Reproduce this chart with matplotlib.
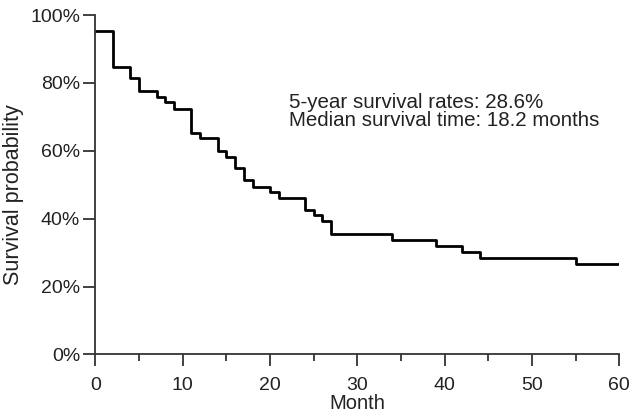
import matplotlib
matplotlib.use("Agg")
from matplotlib import pyplot as plt
from matplotlib.ticker import MultipleLocator, PercentFormatter

plt.rcParams['font.family'] = ['Liberation Sans', 'DejaVu Sans']

# Kaplan-Meier steps (month, survival % after the drop)
months = [0, 2, 4, 5, 7, 8, 9, 11, 12, 14, 15, 16, 17, 18, 20, 21, 24, 25, 26, 27,
          34, 39, 42, 44, 55, 60]
survival = [95.4, 84.8, 81.4, 77.7, 75.9, 74.3, 72.4, 65.2, 63.9, 59.9, 58.3, 54.8,
            51.5, 49.4, 48.0, 46.0, 42.6, 41.1, 39.3, 35.4, 33.7, 32.0, 30.3, 28.3,
            26.7, 26.7]

note_lines = ["5-year survival rates: 28.6%", "Median survival time: 18.2 months"]

fig = plt.figure(figsize=(6.32, 4.18), dpi=100)
fig.set_facecolor('white')
ax = fig.add_axes([0.151, 0.152, 0.829, 0.812])

ax.step(months, survival, where='post', color='black', lw=2.0)

ax.set_xlim(0, 60)
ax.set_ylim(0, 100)
ax.xaxis.set_major_locator(MultipleLocator(10))
ax.xaxis.set_minor_locator(MultipleLocator(5))
ax.yaxis.set_major_locator(MultipleLocator(20))
ax.yaxis.set_major_formatter(PercentFormatter(decimals=0))

for s in ['top', 'right']:
    ax.spines[s].set_visible(False)
for s in ['left', 'bottom']:
    ax.spines[s].set_color('#333333')
    ax.spines[s].set_linewidth(1.3)

ax.tick_params(axis='both', which='major', direction='out', length=8.5, width=1.3,
               color='#333333', labelsize=14, labelcolor='#222222')
ax.tick_params(axis='x', which='major', pad=7.5)
ax.tick_params(axis='y', which='major', pad=2.5)
ax.tick_params(axis='x', which='minor', direction='out', length=4.7, width=1.3,
               color='#333333')

ax.set_xlabel('Month', fontsize=14.5, color='#222222', labelpad=0.5)
ax.set_ylabel('Survival probability', fontsize=15.5, color='#222222')
ax.yaxis.set_label_coords(-0.137, 0.47)

ax.text(22.2, 72.5, note_lines[0], fontsize=14.8, color='#222222',
        va='baseline', ha='left')
ax.text(22.2, 67.4, note_lines[1], fontsize=14.8, color='#222222',
        va='baseline', ha='left')

fig.savefig('out.png', dpi=100, facecolor='white')
